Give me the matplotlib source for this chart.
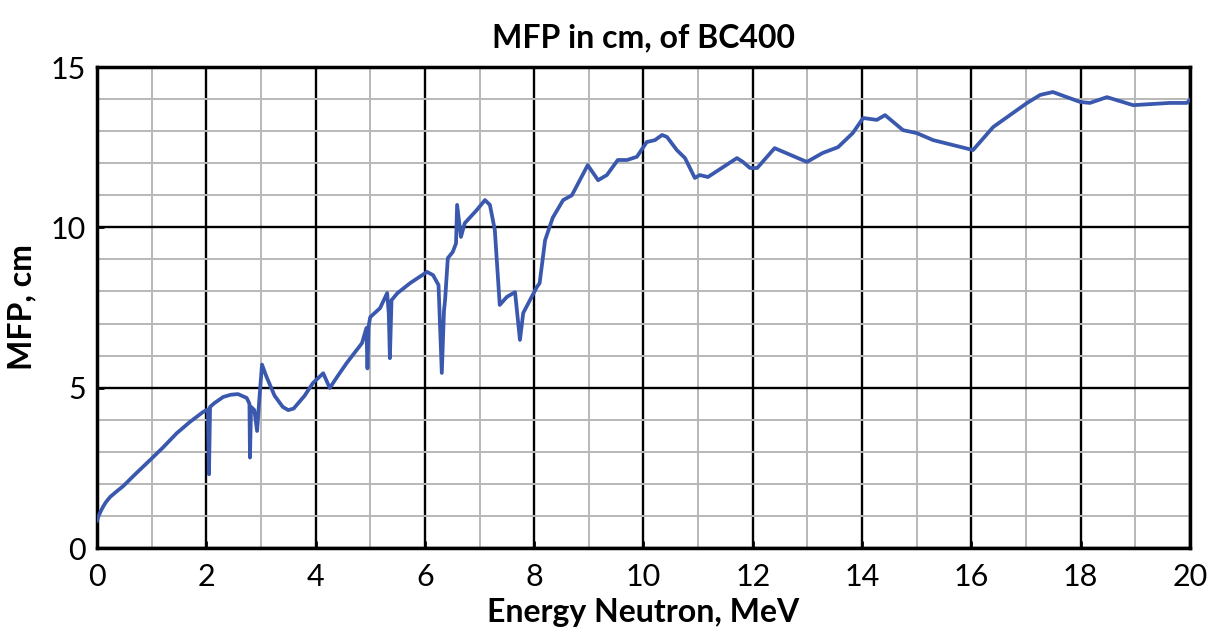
import numpy as np
import matplotlib.pyplot as plt
from matplotlib.ticker import MultipleLocator

# MFP of BC400 vs neutron energy
energy = [0.0, 0.03, 0.07, 0.11, 0.16, 0.24, 0.35, 0.48, 0.7,
          0.97, 1.2, 1.46, 1.7, 1.94, 2.03,
          2.05, 2.07, 2.15, 2.31, 2.45, 2.58, 2.74, 2.79, 2.80, 2.82,
          2.88, 2.93, 2.97, 3.02, 3.1, 3.25, 3.4, 3.5, 3.6, 3.8, 3.95, 4.14,
          4.26, 4.4, 4.57, 4.85, 4.93, 4.95, 4.97, 5.0, 5.18,
          5.31, 5.34, 5.36, 5.39, 5.5, 5.73, 6.04, 6.15,
          6.25, 6.31, 6.35, 6.37, 6.42, 6.51, 6.57, 6.59,
          6.66, 6.73, 6.95, 7.1, 7.19, 7.28, 7.37, 7.5,
          7.65, 7.74, 7.8, 8.05, 8.1, 8.2, 8.34, 8.53,
          8.69, 8.98, 9.17, 9.33, 9.53, 9.7, 9.88, 10.06,
          10.21, 10.34, 10.43, 10.61, 10.76, 10.94, 11.03, 11.18,
          11.71, 11.82, 11.95, 12.08, 12.4, 12.99, 13.28, 13.56,
          13.83, 14.02, 14.27, 14.42, 14.75, 15.0, 15.3, 16.03,
          16.4, 17.02, 17.26, 17.49, 17.99, 18.17, 18.48, 18.96,
          19.63, 19.94, 20.0]
mfp = [0.85, 1.0, 1.15, 1.28, 1.42, 1.59, 1.75, 1.93, 2.3,
       2.74, 3.12, 3.58, 3.93, 4.24, 4.32,
       2.3, 4.4, 4.52, 4.71, 4.78, 4.8, 4.68, 4.5,
       2.82, 4.4, 4.3, 3.65, 4.6, 5.72, 5.35, 4.75, 4.4, 4.3, 4.35, 4.75, 5.14, 5.45,
       4.99, 5.35, 5.77, 6.39, 6.86, 5.6, 6.9, 7.2, 7.48,
       7.95, 7.3, 5.92, 7.73, 7.95, 8.26, 8.61, 8.51,
       8.2, 5.46, 7.4, 7.73, 9.04, 9.23, 9.5, 10.7,
       9.7, 10.13, 10.54, 10.85, 10.7, 9.92, 7.58, 7.83,
       7.98, 6.49, 7.33, 8.14, 8.26, 9.6, 10.3, 10.85,
       11.0, 11.94, 11.47, 11.63, 12.1, 12.1, 12.2, 12.66,
       12.72, 12.88, 12.82, 12.41, 12.16, 11.54, 11.63, 11.57,
       12.16, 12.04, 11.85, 11.85, 12.47, 12.04, 12.32, 12.5,
       12.94, 13.41, 13.35, 13.5, 13.03, 12.94, 12.72, 12.41,
       13.13, 13.88, 14.13, 14.22, 13.91, 13.88, 14.06, 13.81,
       13.88, 13.88, 13.97]

plt.rcParams['font.family'] = ['Lato', 'DejaVu Sans']

fig = plt.figure(figsize=(12.21, 6.4), dpi=100)
ax = fig.add_axes([0.0794, 0.14375, 0.8952, 0.75155])

ax.plot(energy, mfp, color='#3a58ad', lw=2.7, zorder=3,
        solid_joinstyle='round')

ax.set_xlim(0, 20)
ax.set_ylim(0, 15)
ax.xaxis.set_major_locator(MultipleLocator(2))
ax.xaxis.set_minor_locator(MultipleLocator(1))
ax.yaxis.set_major_locator(MultipleLocator(5))
ax.yaxis.set_minor_locator(MultipleLocator(1))

# grid: gray minor, black major
ax.grid(which='minor', color='#b8b8b8', lw=1.4)
ax.grid(which='major', color='black', lw=1.7)
ax.set_axisbelow(True)

ax.tick_params(which='major', direction='in', length=5, width=2,
               labelsize=22, pad=11)
ax.tick_params(axis='y', which='major', pad=8)
ax.tick_params(which='minor', length=0)
for s in ax.spines.values():
    s.set_linewidth(2.5)

ax.set_title('MFP in cm, of BC400', fontsize=23, fontweight='bold', pad=14)
ax.set_xlabel('Energy Neutron, MeV', fontsize=23, fontweight='bold', labelpad=5)
ax.set_ylabel('MFP, cm', fontsize=23, fontweight='bold', labelpad=10)

fig.savefig('out.png', dpi=100)
